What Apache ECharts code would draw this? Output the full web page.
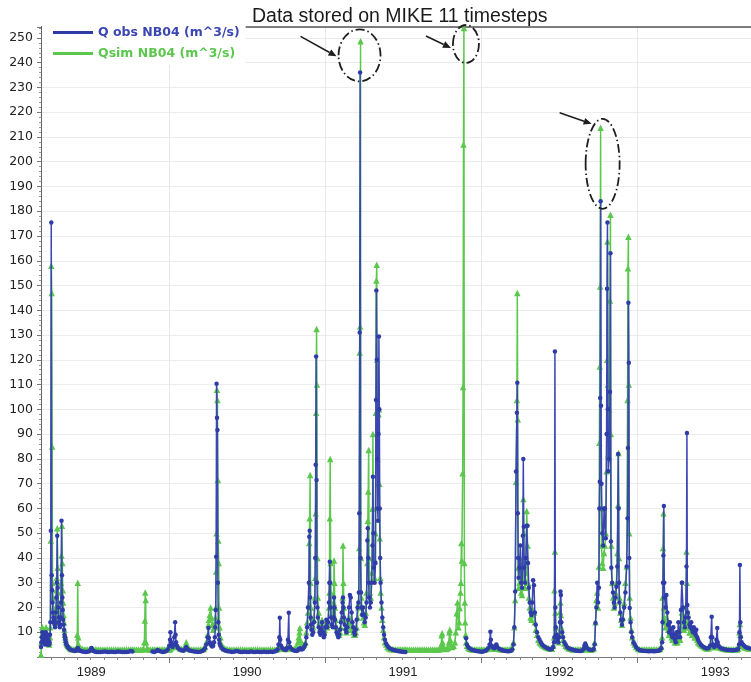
<!DOCTYPE html>
<html>
<head>
<meta charset="utf-8">
<script src="https://cdn.jsdelivr.net/npm/echarts@6/dist/echarts.min.js"></script>
<style>
  html, body { margin: 0; padding: 0; background: #ffffff; }
  #chart { width: 751px; height: 682px; }
</style>
</head>
<body>
<div id="chart"></div>
<script>
// Discharge at station NB04: observed vs. MIKE 11 simulated, m^3/s.
// Time axis: days counted from 1 January 1989.
// Each row is [day, Q obs, Q sim]; a null Q obs means no observation.

const wet1989 = [
  [65, 4, 1], [66, 6, 6], [67, 8, 9], [68, 10, 12], [69, 7, 11], [70, 6, 10],
  [71, 9, 9], [72, 8, 11], [73, 6, 10], [74, 5, 8], [75, 7, 7], [76, 10, 9],
  [77, 8, 12], [78, 6, 10], [79, 5, 8], [80, 7, 7], [81, 9, 8], [82, 6, 7],
  [83, 5, 6], [84, 5, 5], [85, 6, 6], [86, 9, 8], [87, 14, 12], [88, 51, 47],
  [89, 175.5, 158], [90, 33, 147], [91, 27, 85], [92, 22, 30], [93, 18, 24],
  [94, 16, 20], [95, 14, 18], [96, 15, 16], [97, 13, 15], [98, 12, 14],
  [99, 14, 16], [100, 18, 20], [101, 24, 27], [102, 30, 32], [103, 49, 52],
  [104, 28, 36], [105, 20, 26], [106, 16, 22], [107, 14, 19], [108, 13, 17],
  [109, 12, 16], [110, 13, 18], [111, 16, 22], [112, 22, 30], [113, 55, 41],
  [114, 33, 53], [115, 24, 38], [116, 19, 27], [117, 15, 22], [118, 13, 17],
  [119, 11, 14], [120, 9, 11], [121, 8, 9], [122, 7, 8], [123, 6, 7],
  [124, 5, 6], [126, 4.5, 5], [128, 4, 4.5], [130, 3.5, 4], [133, 3, 3.5]
];

const dry1989 = [
  [136, 2.8, 3.2], [140, 2.6, 3.1], [144, 2.4, 3], [147, 2.6, 3], [149, 2.8, 4],
  [150, 3.2, 9], [151, 3.6, 30], [152, 3.2, 8], [153, 2.8, 5], [155, 2.6, 4],
  [158, 2.4, 3.4], [162, 2.2, 3.2], [166, 2.1, 3], [170, 2, 3], [174, 2.1, 3],
  [178, 2.3, 3], [181, 2.8, 3.1], [183, 3.6, 3.3], [185, 3, 3.2], [188, 2.4, 3],
  [192, 2.1, 3], [196, 2, 3], [200, 2, 3], [205, 2, 3], [210, 2.1, 3],
  [215, 2.2, 3], [220, 2, 3], [225, 2, 3], [230, 2.1, 3], [235, 2, 3],
  [240, 2, 3], [245, 2.2, 3], [250, 2.1, 3], [255, 2, 3], [260, 2, 3],
  [265, 2, 3], [270, 2.1, 3], [275, 2.4, 3], [279, 2.2, 3],
  [283, null, 3], [288, null, 3], [293, null, 3], [298, null, 3], [302, null, 3],
  [305, null, 3.2], [307, null, 6], [308, null, 14.7], [309, null, 26],
  [310, null, 23], [311, null, 6], [313, null, 3.5], [317, null, 3], [321, null, 3],
  [326, 2.2, 3], [330, 2, 3], [334, 2.3, 3], [338, 2.8, 3], [342, 2.4, 3],
  [346, 2.2, 3], [350, 2, 3], [354, 2.1, 3], [358, 2.4, 3]
];

const wet1990a = [
  [362, 3, 3], [365, 4.5, 3], [367, 7, 3.2], [368, 10, 3.4], [369, 6, 3.8],
  [371, 4.5, 4], [373, 4, 4.2], [375, 5, 4.4], [377, 8, 4.5], [379, 14, 5],
  [380, 9, 5.5], [381, 6, 5], [383, 4.5, 4.4], [386, 3.5, 4], [390, 3, 3.5],
  [394, 2.7, 3.2], [398, 2.5, 3.2], [402, 3, 4], [404, 3.5, 5], [405, 4, 6],
  [406, 3.5, 4.5], [409, 3, 3.5], [413, 2.6, 3.2], [418, 2.4, 3], [423, 2.2, 3],
  [428, 2.1, 3], [433, 2, 3], [438, 2.1, 3], [442, 2.4, 3], [446, 2.8, 3.2],
  [449, 3.5, 4], [452, 5, 6], [455, 8, 9], [457, 11.7, 13], [458, 7.7, 15],
  [460, 6, 17], [462, 5, 20], [464, 4.5, 16], [466, 4.2, 13], [468, 4.5, 11],
  [470, 6, 12], [472, 8, 14], [473, 12, 16], [474, 19, 20], [475, 40.5, 34.5],
  [476, 110.3, 50], [477, 96.6, 107.9], [478, 91.7, 103.8], [479, 30, 71.5],
  [480, 14, 47], [481, 9, 38], [482, 7, 20], [483, 5.5, 12], [485, 4.5, 8],
  [487, 3.8, 5.5], [490, 3.2, 4.2], [494, 2.8, 3.5], [498, 2.5, 3.2]
];

const dry1990 = [
  [502, 2.3, 3], [507, 2.2, 3], [512, 2, 3], [517, 2.1, 3], [522, 2.4, 3],
  [527, 2.2, 3], [532, 2, 3], [537, 2, 3], [542, 2.1, 3], [547, 2, 3],
  [552, 2, 3], [557, 2.2, 3], [562, 2, 3], [567, 2, 3], [572, 2.1, 3],
  [577, 2, 3], [582, 2, 3], [587, 2.1, 3], [592, 2, 3], [597, 2, 3],
  [602, 2.1, 3], [607, 2, 3], [612, 2.2, 3], [616, 2.5, 3], [619, 3, 3.2],
  [621, 5, 3.6], [623, 8, 4], [624, 15.8, 4.4], [625, 7, 4.2], [627, 4.5, 3.8],
  [630, 3.5, 3.5], [634, 3, 3.3], [638, 2.8, 3.2], [641, 3.5, 3.4], [643, 7, 3.8],
  [645, 17.9, 4.4], [646, 6, 4.2], [648, 4, 3.8], [651, 3.2, 3.5], [655, 2.8, 3.2],
  [659, 2.5, 3.3], [663, 2.4, 4], [666, 2.6, 6], [668, 3, 8], [670, 3.3, 10],
  [671, 3.5, 11.7], [672, 3.2, 7], [675, 3, 5], [678, 3.2, 4.4], [681, 4, 5]
];

const wet1990b = [
  [684, 5, 6], [686, 8, 10], [688, 12, 14], [690, 20, 18], [692, 30, 21],
  [693, 48.6, 46], [694, 51, 56], [695, 24, 73.5], [696, 16, 30], [697, 13, 20],
  [698, 11, 16], [700, 9, 13], [702, 10, 12], [704, 14, 15], [706, 22, 24],
  [707, 40, 32], [708, 77.6, 58], [709, 121.3, 98.6], [710, 71.5, 132.5],
  [711, 30, 110], [712, 20, 40], [713, 16, 24], [715, 12, 18], [717, 10, 14],
  [719, 9, 12], [721, 11, 13], [723, 14, 15], [725, 10, 12], [727, 8, 10],
  [729, 9, 11], [731, 12, 13], [733, 15, 14], [735, 12, 12], [737, 14, 13],
  [739, 22, 20], [740, 30, 26], [741, 38.5, 56], [742, 30, 80], [743, 20, 38],
  [744, 16, 26], [746, 13, 18], [748, 12, 16], [750, 16, 22], [751, 24, 39],
  [752, 20, 30], [753, 15, 20], [755, 12, 15], [757, 10, 12], [759, 9, 11],
  [761, 8, 10], [763, 9, 9], [765, 11, 10], [767, 14, 12], [769, 18, 16],
  [771, 22, 24], [772, 24, 45], [773, 20, 30], [774, 16, 20], [776, 13, 15],
  [778, 11, 12], [780, 10, 10], [782, 12, 11], [784, 15, 13], [786, 20, 14],
  [788, 25, 16], [790, 24, 14], [792, 18, 12], [794, 14, 11], [796, 12, 10],
  [798, 10, 9], [800, 9, 9], [802, 11, 10], [804, 15, 12], [806, 20, 16],
  [808, 22, 20], [809, 26, 22], [810, 58, 44], [811, 131, 123], [812, 236, 133.5],
  [813, 40, 248.6], [814, 26, 40], [815, 20, 24], [817, 17, 18], [819, 20, 16],
  [821, 17, 14], [823, 14, 13], [825, 16, 18], [827, 22, 26], [829, 47, 38],
  [830, 52, 55], [831, 40, 66.8], [832, 30, 83.6], [833, 24, 40], [835, 20, 26],
  [837, 22, 24], [839, 30, 34], [841, 45, 60], [842, 72.8, 90], [843, 50, 60],
  [844, 36, 40], [846, 30, 32], [848, 38, 50], [849, 103.8, 98.6], [850, 148, 152],
  [851, 120, 158.4], [852, 80, 120], [853, 60, 80], [854, 55, 70], [855, 90, 98],
  [856, 129.4, 100], [857, 100, 70], [858, 60, 48], [859, 40, 32], [860, 30, 26],
  [862, 22, 20], [864, 16, 15], [866, 12, 11], [868, 9, 8], [870, 7, 6],
  [873, 5.5, 5], [876, 4.5, 4], [879, 3.8, 3.5]
];

const gap1991 = [
  [883, 3.3, 3.2], [887, 3, 3.1], [891, 2.8, 3], [895, 2.6, 3], [899, 2.4, 3],
  [903, 2.3, 3], [907, 2.2, 3], [911, 2.1, 3], [915, 2, 3], [918, 2, 3],
  [922, null, 3], [927, null, 3], [932, null, 3], [937, null, 3], [942, null, 3],
  [947, null, 3], [952, null, 3], [957, null, 3], [962, null, 3], [967, null, 3],
  [972, null, 3], [977, null, 3], [982, null, 3], [987, null, 3], [992, null, 3],
  [997, null, 3], [1000, null, 3.2], [1002, null, 5], [1003, null, 8.8],
  [1004, null, 9.6], [1005, null, 6], [1007, null, 4], [1010, null, 3.4],
  [1014, null, 3.2], [1018, null, 3.6], [1020, null, 6], [1021, null, 10],
  [1022, null, 11], [1023, null, 7], [1025, null, 5], [1028, null, 4],
  [1031, null, 4.5], [1034, null, 6], [1036, null, 10], [1038, null, 17.7],
  [1040, null, 22], [1042, null, 12], [1044, null, 14], [1045, null, 19.8],
  [1047, null, 26], [1048, null, 30], [1049, null, 46], [1050, null, 39],
  [1052, null, 74.2], [1053, null, 109], [1054, null, 207], [1055, null, 254],
  [1056, null, 38], [1057, null, 22], [1058, null, 14], [1059, null, 9],
  [1060, 7.6, 6], [1062, 5, 4.5], [1065, 4, 3.8]
];

const wet1991 = [
  [1068, 3.5, 3.3], [1072, 3, 3.1], [1076, 2.8, 3], [1080, 2.6, 3], [1084, 2.4, 3],
  [1088, 2.3, 3], [1092, 2.2, 3], [1096, 2.1, 3], [1100, 2.2, 3], [1104, 2.4, 3],
  [1108, 2.8, 3.2], [1112, 3.5, 3.4], [1115, 5, 3.8], [1117, 10.2, 4.4],
  [1118, 7, 4.2], [1120, 4.5, 3.8], [1123, 3.8, 3.5], [1126, 3.5, 3.3],
  [1129, 4.5, 3.5], [1131, 5, 3.6], [1133, 4, 3.4], [1137, 3.3, 3.2],
  [1141, 3, 3.1], [1145, 2.7, 3], [1149, 2.5, 3], [1153, 2.4, 3], [1157, 2.3, 3],
  [1161, 2.3, 3], [1165, 2.5, 3.2], [1168, 3, 4], [1171, 5, 6], [1173, 12, 12],
  [1175, 26.4, 23], [1177, 74.9, 70.8], [1179, 98.6, 103.8], [1180, 110.7, 147],
  [1181, 58, 96], [1182, 40, 36], [1183, 32, 28], [1185, 36, 30], [1187, 45, 38],
  [1189, 30, 26], [1191, 28, 25], [1193, 49, 40], [1194, 80, 63.8], [1195, 52.6, 50],
  [1196, 36, 32], [1198, 30, 28], [1200, 40, 34], [1202, 53, 59], [1204, 53, 45],
  [1205, 38, 30], [1207, 28, 24], [1209, 22, 20], [1211, 18, 16], [1213, 17, 15],
  [1215, 22, 17], [1217, 31, 19], [1219, 29, 18], [1221, 18, 14], [1223, 13, 11],
  [1226, 10, 9], [1229, 8, 7], [1232, 7, 6], [1235, 6, 5.5], [1238, 5, 5],
  [1241, 4.5, 4.5], [1245, 4, 4], [1249, 3.6, 3.8], [1253, 3.3, 3.5], [1257, 3, 3.3],
  [1261, 3.2, 3.3], [1264, 4, 4.5], [1266, 6, 8], [1267, 8, 27], [1268, 123.4, 42.6],
  [1269, 20, 18], [1270, 12, 12], [1272, 9, 9], [1274, 7, 7], [1276, 6, 6],
  [1278, 8, 10], [1280, 14, 18.3], [1281, 26.4, 22], [1282, 25, 17], [1283, 14, 12],
  [1285, 10, 9], [1287, 8, 7], [1290, 6, 5.5], [1293, 5, 4.5], [1296, 4, 4],
  [1300, 3.5, 3.5]
];

const wet1992 = [
  [1304, 3.2, 3.3], [1308, 3, 3.1], [1312, 2.8, 3], [1316, 2.6, 3], [1320, 2.5, 3],
  [1324, 2.4, 3], [1328, 2.4, 3], [1332, 2.6, 3], [1335, 3.2, 3.1], [1337, 4.5, 3.4],
  [1339, 5.5, 3.6], [1341, 4.5, 3.4], [1344, 3.5, 3.2], [1348, 3, 3], [1352, 2.8, 3],
  [1356, 2.8, 3.1], [1359, 3.2, 3.5], [1361, 5, 6], [1363, 13.7, 14], [1365, 20, 23],
  [1367, 30, 26], [1369, 22, 20], [1371, 28, 36.5], [1372, 60, 86.5],
  [1373, 70.8, 117.3], [1374, 104.6, 149.6], [1375, 184, 213.7], [1376, 101.5, 60],
  [1377, 70, 45], [1379, 50, 38], [1381, 45, 36], [1383, 60, 42], [1385, 60, 45],
  [1387, 48, 50], [1389, 90, 75], [1390, 148.7, 120], [1391, 175.5, 167.8],
  [1392, 100, 110], [1393, 75, 81.6], [1395, 80, 100], [1397, 107, 144],
  [1398, 163, 178.6], [1399, 46.6, 90], [1400, 36, 45], [1402, 30, 30],
  [1404, 26, 24], [1406, 22, 20], [1408, 20, 22], [1410, 24, 26], [1412, 28.4, 30],
  [1414, 36.5, 42], [1416, 82, 61.4], [1417, 60, 82.4], [1418, 30, 40],
  [1419, 22, 24], [1421, 18, 18], [1423, 15, 15], [1425, 13, 13], [1427, 15, 16],
  [1430, 20, 21.8], [1433, 26, 30], [1436, 36.5, 36.5], [1438, 56, 103.8],
  [1439, 84.4, 157], [1440, 143, 169.7], [1441, 118.8, 110], [1442, 40, 50],
  [1443, 19.8, 24], [1445, 14, 16], [1447, 10, 11], [1449, 8, 8], [1452, 6, 6],
  [1455, 5, 5], [1458, 4, 4], [1462, 3.2, 3.4]
];

const wet1993 = [
  [1466, 2.8, 3.1], [1470, 2.6, 3], [1474, 2.5, 3], [1478, 2.4, 3], [1482, 2.4, 3],
  [1486, 2.3, 3], [1490, 2.3, 3], [1494, 2.4, 3], [1498, 2.3, 3], [1502, 2.3, 3],
  [1506, 2.4, 3], [1510, 2.5, 3], [1514, 2.8, 3.2], [1517, 3.5, 4], [1519, 6, 8],
  [1520, 14, 24], [1521, 30, 44], [1522, 41, 58], [1523, 61, 20], [1524, 30, 16],
  [1525, 24, 14], [1527, 20, 12], [1529, 25, 16], [1531, 18, 13], [1533, 13, 11],
  [1535, 10, 9], [1537, 14, 10], [1539, 11, 9], [1541, 9, 8], [1543, 8, 7],
  [1545, 12, 8], [1547, 9, 7], [1549, 7, 6], [1551, 6, 6], [1553, 10, 7],
  [1555, 8, 6], [1557, 14, 9], [1559, 10, 8], [1561, 8, 7], [1563, 19, 12],
  [1565, 30, 18], [1566, 30, 20], [1568, 20, 14], [1570, 14, 11], [1572, 12, 12],
  [1574, 16, 14], [1576, 36.5, 42.6], [1577, 90.5, 30], [1578, 21, 18.3],
  [1579, 18, 14], [1581, 16, 12], [1583, 13, 10], [1585, 12, 10], [1587, 14, 11],
  [1589, 11, 9], [1591, 10, 9], [1593, 12, 10], [1595, 10, 8], [1597, 9, 8],
  [1599, 11, 8], [1601, 8, 7], [1603, 7, 6], [1606, 6, 5.5], [1609, 5, 5],
  [1612, 4.5, 4.5], [1616, 4, 4], [1620, 3.6, 3.6], [1624, 3.4, 3.4], [1628, 3.6, 3.5],
  [1631, 4.5, 4], [1633, 8, 5], [1635, 16.3, 6], [1636, 8, 5], [1638, 5, 4.5],
  [1641, 4, 4], [1644, 4.5, 4], [1646, 7, 5], [1648, 11.7, 6], [1649, 6, 5],
  [1651, 4.5, 4.2], [1654, 3.8, 3.8], [1658, 3.4, 3.5], [1662, 3.2, 3.3],
  [1666, 3, 3.2], [1670, 2.9, 3.1], [1674, 2.8, 3], [1678, 2.8, 3], [1682, 2.7, 3],
  [1686, 2.7, 3], [1690, 2.8, 3], [1694, 2.9, 3], [1697, 3.2, 3.3], [1699, 5, 5],
  [1700, 10, 10], [1701, 37.2, 13.3], [1702, 14, 9], [1703, 8, 6], [1705, 6, 5],
  [1708, 5, 4.5], [1711, 4.5, 4], [1714, 4, 3.8], [1717, 3.8, 3.6], [1720, 3.6, 3.5],
  [1724, 3.4, 3.4]
];

// Axis text
const yearLabels = ['1989', '1990', '1991', '1992', '1993'];
const titleText = 'Data stored on MIKE 11 timesteps';
const obsName = 'Q obs NB04 (m^3/s)';
const simName = 'Qsim NB04 (m^3/s)';

// Peaks singled out by the dashed callouts (day of the simulated maximum)
const calloutDays = [813, 1055, 1375];

const BLUE = '#3b46b3';
const GREEN = '#5bc84d';

const rows = [].concat(wet1989, dry1989, wet1990a, dry1990, wet1990b, gap1991, wet1991, wet1992, wet1993);
const obsSeries = rows.map(r => [r[0], r[1]]);
const simSeries = rows.map(r => [r[0], r[2]]);

// Calendar helpers for the time axis (day 0 = 1 Jan 1989)
const DAY = 86400000;
const EPOCH = Date.UTC(1989, 0, 1);
const dayOf = (y, m) => (Date.UTC(y, m, 1) - EPOCH) / DAY;
const yearStarts = [];
for (let y = 1989; y <= 1994; y++) yearStarts.push(dayOf(y, 0));
const yearMids = yearLabels.map((_, i) => (yearStarts[i] + yearStarts[i + 1]) / 2);
const monthStarts = [];
for (let y = 1989; y <= 1993; y++) for (let m = 0; m < 12; m++) monthStarts.push(dayOf(y, m));

// The plot runs slightly past the right edge of the page
const X_MIN = 65, X_MAX = 1727;
const Y_MAX = 254.4;
const chart = echarts.init(document.getElementById('chart'), null, { renderer: 'canvas' });

const gridTop = 27, gridBottom = 25;
const gridHeight = 682 - gridTop - gridBottom;

chart.setOption({
  animation: false,
  backgroundColor: '#ffffff',
  title: {
    text: titleText,
    left: 252,
    top: 7,
    padding: 0,
    textStyle: { fontFamily: 'Liberation Sans, Arial, sans-serif', fontSize: 19.5, fontWeight: 'normal', color: '#1a1a1a' }
  },
  legend: {
    orient: 'vertical',
    left: 42,
    top: 22,
    z: 6,
    padding: [4, 6, 5, 11],
    itemGap: 8,
    itemWidth: 40,
    itemHeight: 3,
    icon: 'rect',
    backgroundColor: '#ffffff',
    selectedMode: false,
    data: [
      { name: obsName, textStyle: { color: BLUE } },
      { name: simName, textStyle: { color: GREEN } }
    ],
    textStyle: { fontFamily: 'DejaVu Sans, Verdana, sans-serif', fontWeight: 'bold', fontSize: 12.5 }
  },
  grid: {
    left: 41, right: -3, top: gridTop, bottom: gridBottom, show: false
  },
  xAxis: [
    {
      type: 'value', min: X_MIN, max: X_MAX, position: 'bottom',
      axisLine: { show: true, lineStyle: { color: '#777', width: 1 } },
      axisTick: { show: true, customValues: monthStarts, length: 3, lineStyle: { color: '#888' } },
      axisLabel: {
        customValues: yearMids,
        formatter: v => yearLabels[Math.floor(v / 365.25)] || '',
        fontFamily: 'Liberation Sans, Arial, sans-serif', fontSize: 13, color: '#222', margin: 9
      },
      splitLine: { show: false }
    },
    {
      type: 'value', min: X_MIN, max: X_MAX, position: 'top', offset: -gridHeight,
      axisLine: { show: false },
      axisTick: { show: true, inside: true, customValues: yearStarts, length: 6, lineStyle: { color: '#777' } },
      axisLabel: { show: false },
      splitLine: { show: true, lineStyle: { color: '#e8e8e8', width: 1 } }
    }
  ],
  yAxis: {
    type: 'value', min: 0, max: Y_MAX, interval: 10,
    axisLine: { show: true, lineStyle: { color: '#666' } },
    axisTick: { show: true, length: 4, lineStyle: { color: '#777' } },
    minorTick: { show: true, splitNumber: 5, length: 2, lineStyle: { color: '#999' } },
    axisLabel: {
      showMinLabel: false, showMaxLabel: false,
      fontFamily: 'DejaVu Sans, Verdana, sans-serif', fontSize: 12.5, color: '#222', margin: 8
    },
    splitLine: { show: true, lineStyle: { color: '#ececec' } }
  },
  series: [
    {
      name: simName, type: 'line', xAxisIndex: 0, data: simSeries,
      symbol: 'triangle', symbolSize: 6.5, showAllSymbol: true, connectNulls: false,
      lineStyle: { color: GREEN, width: 1.5 }, itemStyle: { color: GREEN },
      z: 2, clip: true
    },
    {
      name: obsName, type: 'line', xAxisIndex: 0, data: obsSeries,
      symbol: 'circle', symbolSize: 4.5, showAllSymbol: true, connectNulls: false,
      lineStyle: { color: BLUE, width: 1.5 }, itemStyle: { color: '#2f3ca8' },
      z: 3, clip: true
    }
  ]
});

// Top frame of the plot area plus dash-dot callouts with arrows around the highlighted peaks
function decorations() {
  const els = [];
  const topLeft = chart.convertToPixel({ xAxisIndex: 0, yAxisIndex: 0 }, [X_MIN, Y_MAX]);
  els.push({
    type: 'line', silent: true, z: 1,
    shape: { x1: topLeft[0], y1: topLeft[1], x2: 751, y2: topLeft[1] },
    style: { stroke: '#555', lineWidth: 1.5 }
  });

  const shapes = [
    { dx: -1, dy: 14, rx: 21, ry: 26, tail: [-59, -19], tip: [-23, 1] },
    { dx: 2, dy: 16, rx: 13, ry: 19, tail: [-40, -8], tip: [-15, 4] },
    { dx: 2, dy: 36, rx: 17, ry: 45, tail: [-43, -51], tip: [-11, -40] }
  ];
  calloutDays.forEach((d, i) => {
    const row = rows.find(r => r[0] === d);
    const p = chart.convertToPixel({ seriesIndex: 0 }, [row[0], Math.min(row[2], Y_MAX)]);
    const s = shapes[i];
    const cx = p[0] + s.dx, cy = p[1] + s.dy;
    els.push({
      type: 'ellipse', silent: true, z: 20,
      shape: { cx: cx, cy: cy, rx: s.rx, ry: s.ry },
      style: { fill: 'none', stroke: '#1e1e1e', lineWidth: 1.8, lineDash: [9, 3, 1.5, 3] }
    });
    const tx = cx + s.tail[0], ty = cy + s.tail[1];
    const hx = cx + s.tip[0], hy = cy + s.tip[1];
    const len = Math.hypot(hx - tx, hy - ty);
    const ux = (hx - tx) / len, uy = (hy - ty) / len;
    const bx = hx - ux * 8, by = hy - uy * 8;
    els.push({
      type: 'line', silent: true, z: 20,
      shape: { x1: tx, y1: ty, x2: bx, y2: by },
      style: { stroke: '#1e1e1e', lineWidth: 1.5 }
    });
    els.push({
      type: 'polygon', silent: true, z: 20,
      shape: { points: [[hx, hy], [bx - uy * 3.5, by + ux * 3.5], [bx + uy * 3.5, by - ux * 3.5]] },
      style: { fill: '#1e1e1e' }
    });
  });
  chart.setOption({ graphic: els });
}
decorations();
</script>
</body>
</html>
